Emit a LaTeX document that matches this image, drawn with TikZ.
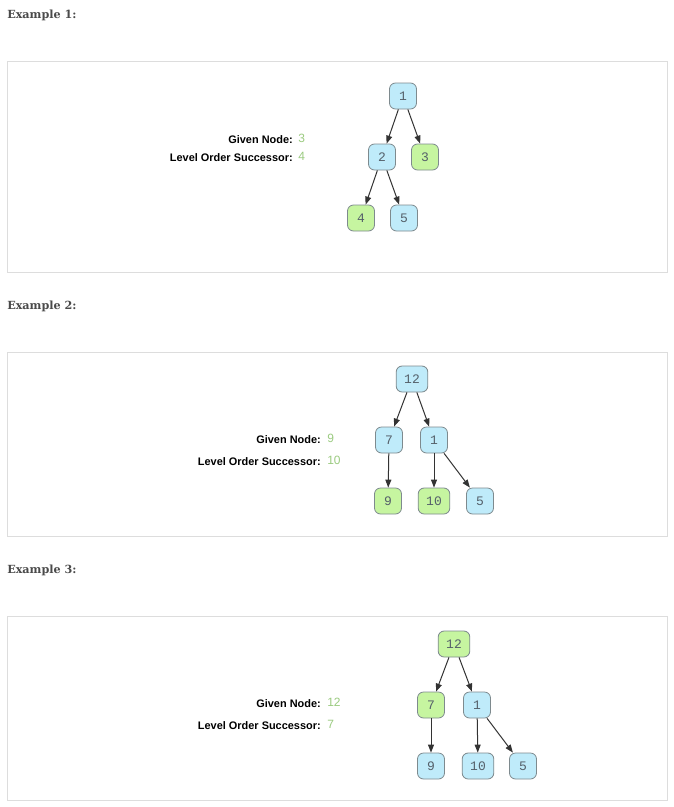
\documentclass[tikz,border=0pt]{standalone}
\usepackage{fontspec}
\setmainfont{Liberation Sans}
\newfontfamily\headfont{DejaVu Serif}
\newfontfamily\nodefont{Liberation Mono}
\usetikzlibrary{arrows.meta}
\definecolor{nblue}{HTML}{BFEBFA}
\definecolor{ngreen}{HTML}{C6F5A0}
\definecolor{nborder}{HTML}{7E8A8E}
\definecolor{ntext}{HTML}{55606A}
\definecolor{edgec}{HTML}{333333}
\definecolor{headc}{HTML}{4A4A4A}
\definecolor{boxc}{HTML}{DDDDDD}
\definecolor{valc}{HTML}{9BCB80}
\begin{document}
\begin{tikzpicture}[x=0.75pt,y=-0.75pt,
  tnode/.style={draw=nborder, line width=0.6pt, rounded corners=4.5pt,
    minimum width=20.25pt, minimum height=19.5pt, inner xsep=6pt, inner ysep=0pt,
    font=\nodefont\fontsize{9.75}{10}\selectfont, text=ntext, fill=nblue},
  gnode/.style={tnode, fill=ngreen},
  conn/.style={draw=edgec, line width=0.75pt, -{Triangle[length=6pt,width=4.5pt]}},
  heading/.style={anchor=base west, font=\headfont\bfseries\fontsize{8.4}{10}\selectfont, text=headc, inner sep=0pt},
  lbl/.style={anchor=base east, font=\bfseries\fontsize{8.2}{10}\selectfont, text=black, inner sep=0pt},
  val/.style={anchor=base west, font=\fontsize{9}{10}\selectfont, text=valc, inner sep=0pt},
  panel/.style={draw=boxc, line width=0.75pt, fill=white}]
\useasboundingbox (0,0) rectangle (674,807);
\fill[white] (0,0) rectangle (674,807);

% ---------- Example 1 ----------
\node[heading] (h1) at (7,18.3) {Example 1:};
\draw[panel] (7,61) rectangle (667,272);
\node[lbl] (g1) at (293,143) {Given Node:};
\node[val] (gv1) at (298,142) {3};
\node[lbl] (s1) at (293,161) {Level Order Successor:};
\node[val] (sv1) at (298,160) {4};
\node[tnode] (a1) at (403,96) {1};
\node[tnode] (a2) at (382,157) {2};
\node[gnode] (a3) at (425,157) {3};
\node[gnode] (a4) at (361,218) {4};
\node[tnode] (a5) at (404,218) {5};
\draw[conn] (a1) -- (a2);
\draw[conn] (a1) -- (a3);
\draw[conn] (a2) -- (a4);
\draw[conn] (a2) -- (a5);

% ---------- Example 2 ----------
\node[heading] (h2) at (7,309.3) {Example 2:};
\draw[panel] (7,352) rectangle (667,536);
\node[lbl] (g2) at (321,443) {Given Node:};
\node[val] (gv2) at (327,442) {9};
\node[lbl] (s2) at (321,465) {Level Order Successor:};
\node[val] (sv2) at (327,464) {10};
\node[tnode] (b12) at (412,379) {12};
\node[tnode] (b7) at (389,440) {7};
\node[tnode] (b1) at (434,440) {1};
\node[gnode] (b9) at (388,501) {9};
\node[gnode] (b10) at (434,501) {10};
\node[tnode] (b5) at (480,501) {5};
\draw[conn] (b12) -- (b7);
\draw[conn] (b12) -- (b1);
\draw[conn] (b7) -- (b9);
\draw[conn] (b1) -- (b10);
\draw[conn] (b1) -- (b5);

% ---------- Example 3 ----------
\node[heading] (h3) at (7,573.3) {Example 3:};
\draw[panel] (7,616) rectangle (667,800);
\node[lbl] (g3) at (321,707) {Given Node:};
\node[val] (gv3) at (327,706) {12};
\node[lbl] (s3) at (321,729) {Level Order Successor:};
\node[val] (sv3) at (327,728) {7};
\node[gnode] (c12) at (454,644) {12};
\node[gnode] (c7) at (431,705) {7};
\node[tnode] (c1) at (477,705) {1};
\node[tnode] (c9) at (431,766) {9};
\node[tnode] (c10) at (478,766) {10};
\node[tnode] (c5) at (523,766) {5};
\draw[conn] (c12) -- (c7);
\draw[conn] (c12) -- (c1);
\draw[conn] (c7) -- (c9);
\draw[conn] (c1) -- (c10);
\draw[conn] (c1) -- (c5);
\end{tikzpicture}
\end{document}
